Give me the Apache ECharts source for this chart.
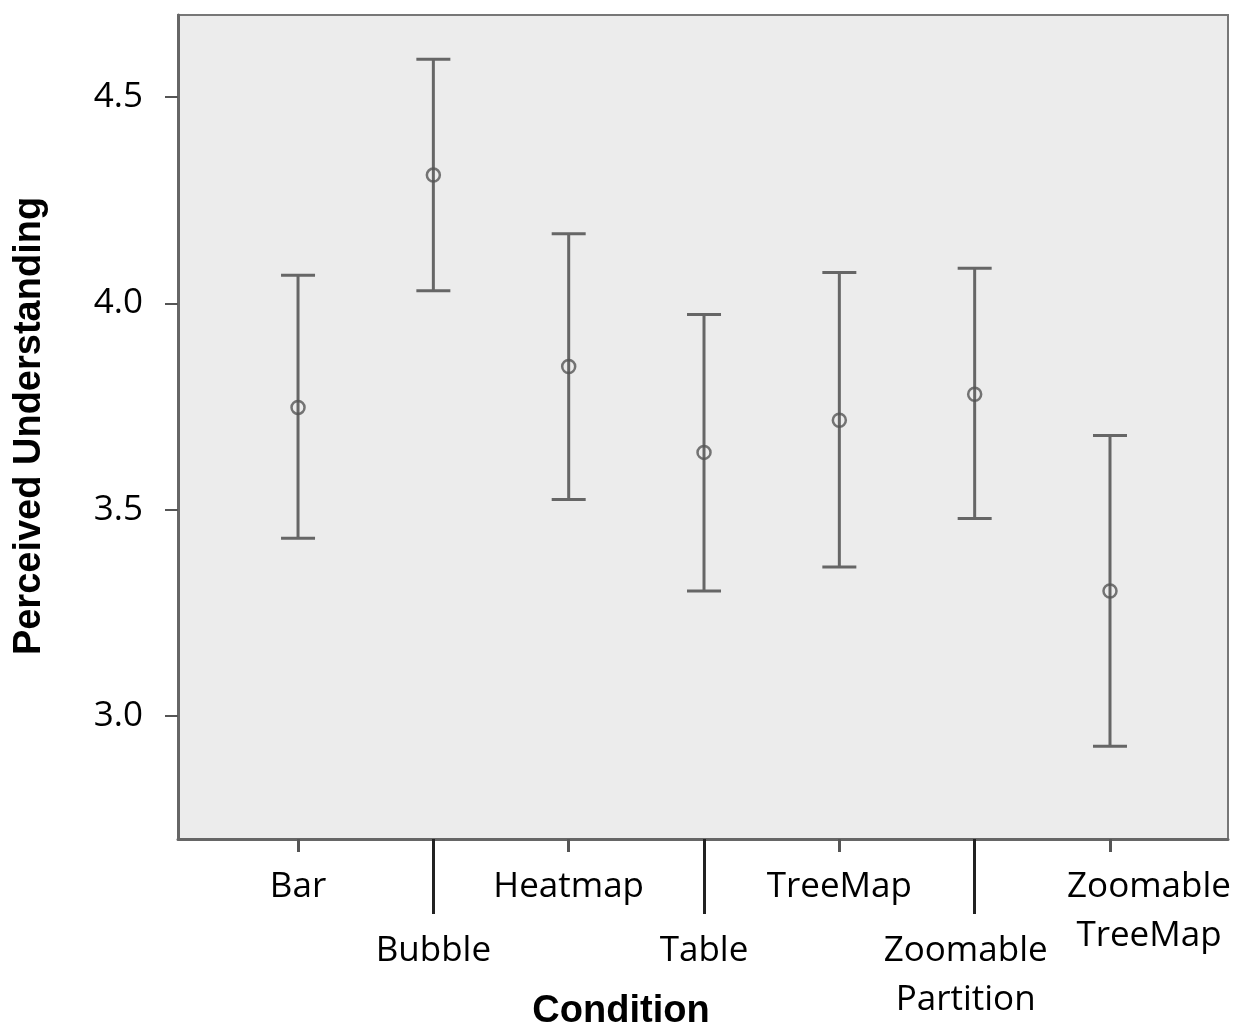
<!DOCTYPE html>
<html><head><meta charset="utf-8">
<script src="https://cdn.jsdelivr.net/npm/echarts@6/dist/echarts.min.js"></script>
<style>html,body{margin:0;padding:0;background:#fff}#c{width:1235px;height:1028px}</style>
</head><body><div id="c"></div>
<script>
const categories = ['Bar','Bubble','Heatmap','Table','TreeMap','Zoomable\nPartition','Zoomable\nTreeMap'];
const means = [3.748, 4.311, 3.847, 3.639, 3.717, 3.780, 3.303];
const lower = [3.431, 4.031, 3.525, 3.303, 3.361, 3.479, 2.927];
const upper = [4.068, 4.592, 4.169, 3.973, 4.075, 4.085, 3.680];
const yTicks = [3.0, 3.5, 4.0, 4.5];

const chart = echarts.init(document.getElementById('c'));
const labelFont = {fontFamily:'Open Sans', fontSize:35, color:'#000', lineHeight:49,
  rich:{r:{fontFamily:'Open Sans', fontSize:35, color:'#000', lineHeight:49, padding:[0,0,0,78]},
        l:{fontFamily:'Open Sans', fontSize:35, color:'#000', lineHeight:49, padding:[0,18,0,0]}}};
const evenIdx = [0,2,4,6], oddIdx = [1,3,5];
function fmt(v){
  const i = Math.round(v);
  const s = categories[i];
  if (i === 6) return s.split('\n').map(t=>'{r|'+t+'}').join('\n');
  if (i === 5) return s.split('\n').map(t=>'{l|'+t+'}').join('\n');
  return s;
}
const xBase = {type:'value', min:-0.887, max:6.872, position:'bottom', splitLine:{show:false}};
chart.setOption({
  animation:false,
  grid:{left:178, right:7, top:15, bottom:189, show:true, backgroundColor:'#ececec', borderColor:'#777', borderWidth:2},
  xAxis:[
    Object.assign({}, xBase, {
      axisLine:{show:true, onZero:false, lineStyle:{color:'#666', width:3}},
      axisTick:{show:true, customValues:evenIdx, length:13, inside:false, lineStyle:{color:'#555', width:3}},
      axisLabel:Object.assign({customValues:evenIdx, margin:24, formatter:fmt}, labelFont)
    }),
    Object.assign({}, xBase, {
      axisLine:{show:false, onZero:false},
      axisTick:{show:true, customValues:oddIdx, length:75, lineStyle:{color:'#222', width:3}},
      axisLabel:Object.assign({customValues:oddIdx, margin:88, formatter:fmt}, labelFont)
    })
  ],
  yAxis:{type:'value', min:2.702, max:4.699, splitLine:{show:false},
    axisLine:{show:true, onZero:false, lineStyle:{color:'#666', width:3}},
    axisTick:{show:true, customValues:yTicks, length:13, lineStyle:{color:'#555', width:2}},
    axisLabel:{customValues:yTicks, margin:35, formatter:v=>v.toFixed(1), fontFamily:'Open Sans', fontSize:35, color:'#000'}
  },
  graphic:[
    {type:'text', x:30, y:426, rotation:Math.PI/2, style:{text:'Perceived Understanding', fontFamily:'Liberation Sans', fontWeight:'bold', fontSize:38, fill:'#000', align:'center', verticalAlign:'middle'}},
    {type:'text', x:621, y:1012, style:{text:'Condition', fontFamily:'Liberation Sans', fontWeight:'bold', fontSize:38, fill:'#000', align:'center', verticalAlign:'middle'}}
  ],
  series:[
    {type:'custom', xAxisIndex:0, data:means.map((m,i)=>[i, lower[i], upper[i]]),
      renderItem:function(params, api){
        const x = api.value(0);
        const lo = api.coord([x, api.value(1)]);
        const hi = api.coord([x, api.value(2)]);
        const w = 17;
        const st = {stroke:'#666', lineWidth:3};
        return {type:'group', children:[
          {type:'line', shape:{x1:lo[0], y1:lo[1], x2:hi[0], y2:hi[1]}, style:st},
          {type:'line', shape:{x1:lo[0]-w, y1:lo[1], x2:lo[0]+w, y2:lo[1]}, style:st},
          {type:'line', shape:{x1:hi[0]-w, y1:hi[1], x2:hi[0]+w, y2:hi[1]}, style:st}
        ]};
      }
    },
    {type:'scatter', xAxisIndex:0, data:means.map((m,i)=>[i,m]), symbol:'circle', symbolSize:13,
      itemStyle:{color:'rgba(0,0,0,0)', borderColor:'#555', borderWidth:2.5}, z:5}
  ]
});
</script></body></html>
